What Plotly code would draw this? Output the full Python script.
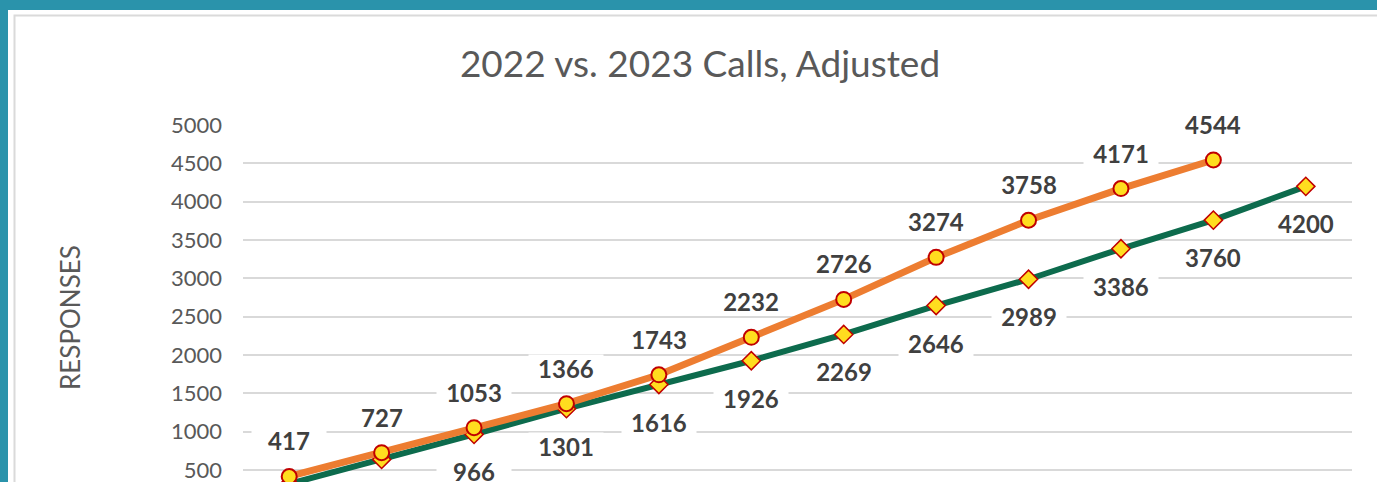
import plotly.graph_objects as go

months = ["Jan", "Feb", "Mar", "Apr", "May", "Jun", "Jul", "Aug", "Sep", "Oct", "Nov", "Dec"]
calls_2022 = [320, 640, 966, 1301, 1616, 1926, 2269, 2646, 2989, 3386, 3760, 4200]
calls_2023 = [417, 727, 1053, 1366, 1743, 2232, 2726, 3274, 3758, 4171, 4544, None]
y_ticks = [500, 1000, 1500, 2000, 2500, 3000, 3500, 4000, 4500, 5000]

W, H = 1377, 482
L, R, T, B = 243, 25, 125, 0
PW, PH = W - L - R, H - T - B


def px_x(p):
    return (p - L) / PW


def px_y(p):
    return (H - B - p) / PH


TEAL = "#2A93AB"
ORANGE = "#ED7D31"
GREEN = "#0D6B4D"
YELLOW = "#FFDD1F"
RED = "#C00000"
GRAY_TXT = "#595959"
LABEL_TXT = "#404040"

fig = go.Figure()

fig.add_trace(go.Scatter(
    x=months, y=calls_2022, name="2022", mode="lines+markers",
    line=dict(color=GREEN, width=6),
    marker=dict(symbol="diamond", size=14, color=YELLOW, line=dict(color=RED, width=1.5)),
))
fig.add_trace(go.Scatter(
    x=months, y=calls_2023, name="2023", mode="lines+markers",
    line=dict(color=ORANGE, width=7),
    marker=dict(symbol="circle", size=15, color=YELLOW, line=dict(color=RED, width=2)),
))

label_font = dict(family="Lato", size=24, color=LABEL_TXT, weight="bold")
annotations = []
for m, v in zip(months, calls_2023):
    if v is None:
        continue
    annotations.append(dict(
        x=m, y=v, xref="x", yref="y", text=str(v), showarrow=False,
        yshift=36, bgcolor="white", width=74, height=26, borderpad=0,
        font=label_font,
    ))
for m, v in zip(months, calls_2022):
    annotations.append(dict(
        x=m, y=v, xref="x", yref="y", text=str(v), showarrow=False,
        yshift=-37, bgcolor="white", width=74, height=26, borderpad=0,
        font=label_font,
    ))

annotations.append(dict(
    x=px_x(70), y=px_y(318), xref="paper", yref="paper", text="RESPONSES",
    textangle=-90, showarrow=False, xanchor="center", yanchor="middle",
    font=dict(family="Lato", size=26, color=GRAY_TXT),
))

shapes = [
    dict(type="rect", xref="paper", yref="paper", layer="below",
         x0=px_x(8), x1=px_x(1420), y0=px_y(520), y1=px_y(10),
         fillcolor="white", line=dict(width=0)),
    dict(type="rect", xref="paper", yref="paper", layer="below",
         x0=px_x(14.5), x1=px_x(1420), y0=px_y(520), y1=px_y(15.5),
         fillcolor="rgba(0,0,0,0)", line=dict(color="#DADADA", width=2)),
]

fig.update_layout(
    width=W, height=H,
    margin=dict(l=L, r=R, t=T, b=B, autoexpand=False),
    paper_bgcolor=TEAL, plot_bgcolor="white",
    showlegend=False,
    title=dict(text="2022 vs. 2023 Calls, Adjusted", xref="container", yref="container",
               x=700 / W, y=1 - 64 / H, xanchor="center", yanchor="middle",
               font=dict(family="Lato", size=37, color=GRAY_TXT)),
    annotations=annotations,
    shapes=shapes,
    xaxis=dict(range=[-0.5, 11.5], showticklabels=False, showgrid=False, zeroline=False,
               showline=False, ticks="", automargin=False),
    yaxis=dict(range=[345, 5000], tickvals=y_ticks, ticktext=[str(t) for t in y_ticks],
               showgrid=True, gridcolor="#D9D9D9", gridwidth=1.5, zeroline=False,
               showline=False, ticks="", ticklabelstandoff=20, automargin=False,
               ticklabeloverflow="allow",
               tickfont=dict(family="Lato", size=22, color=GRAY_TXT)),
)

fig.write_html("out.html", config={"displayModeBar": False},
               post_script="document.body.style.margin='0';document.body.style.overflow='hidden';")
